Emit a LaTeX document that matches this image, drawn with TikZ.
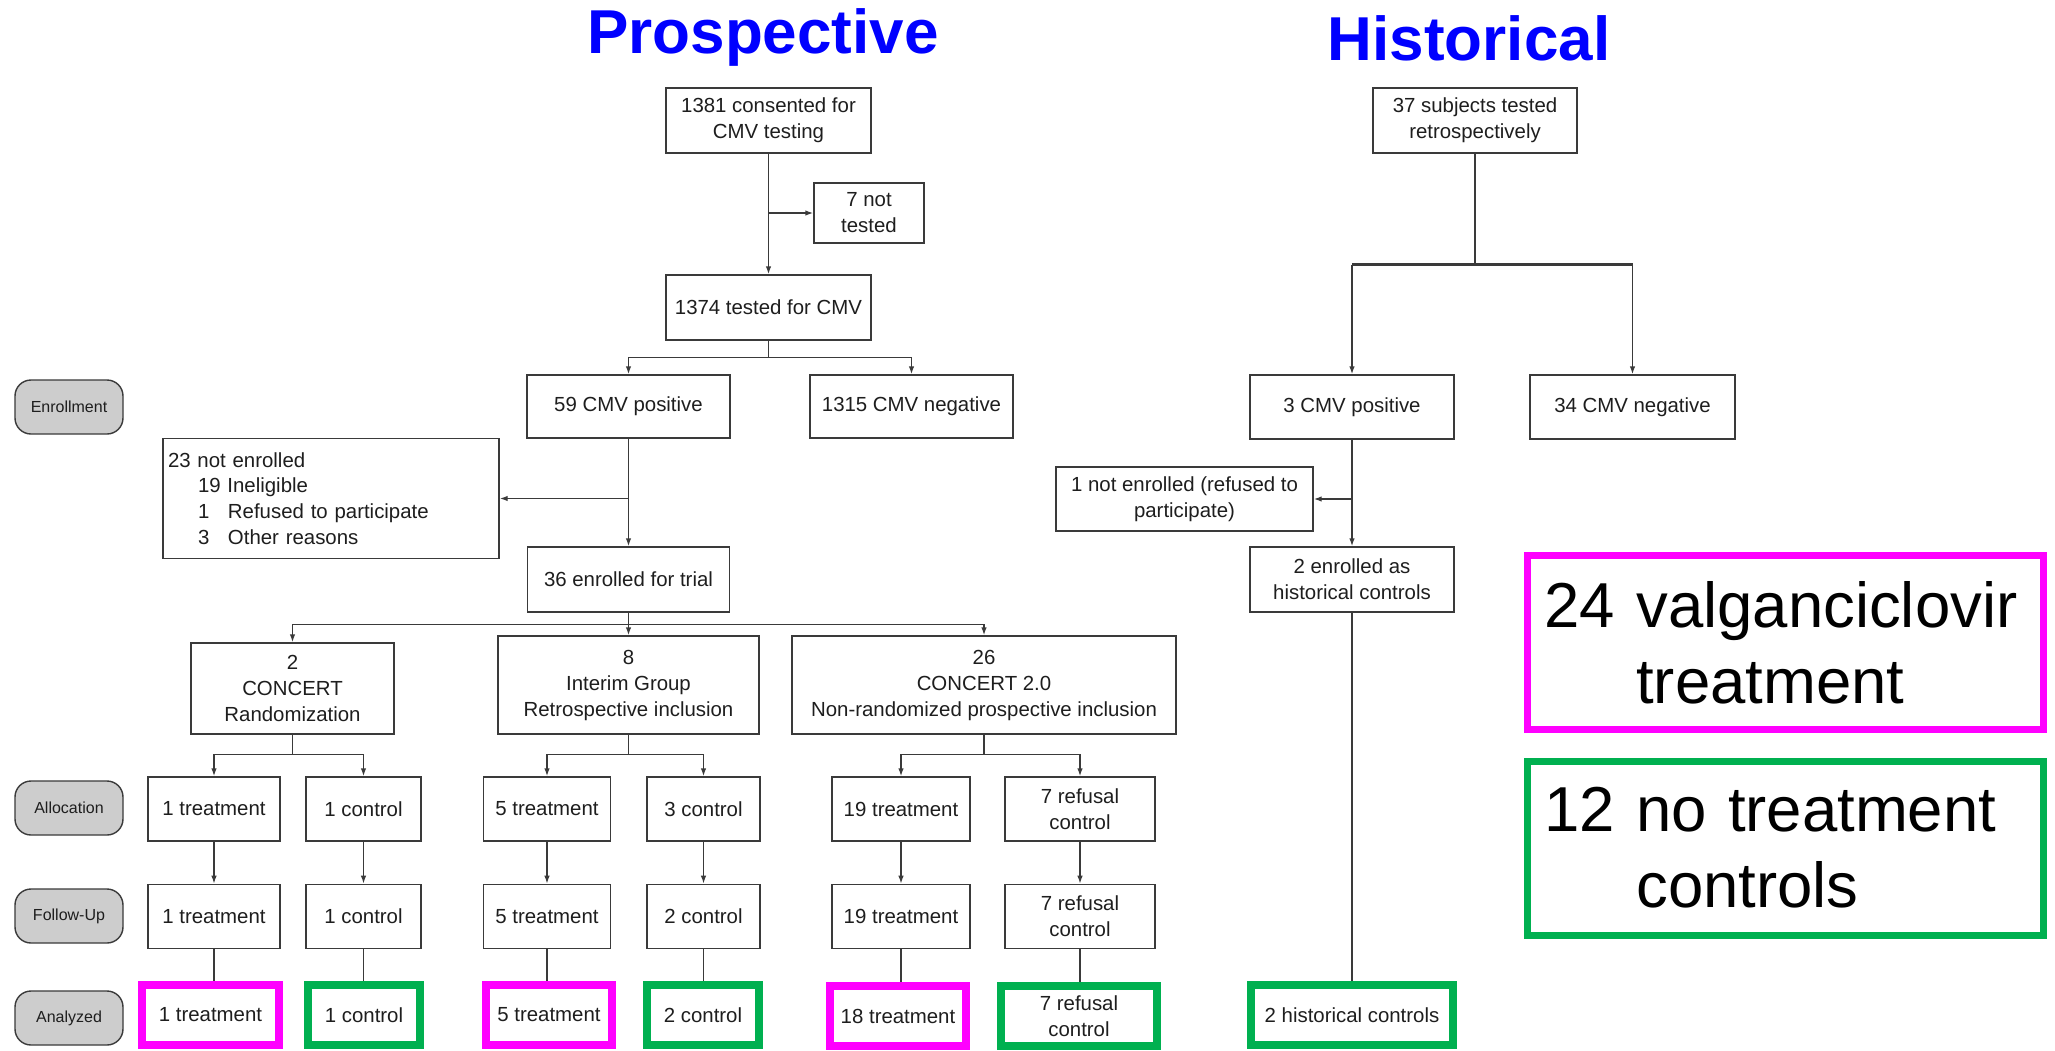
\documentclass[tikz,border=0pt]{standalone}
\usepackage{fontspec}
\setmainfont{Liberation Sans}
\usepackage{xcolor}
\usepackage{tikz}
\usetikzlibrary{arrows.meta, positioning}
\definecolor{TitleBlue}{HTML}{0000FF}
\definecolor{TreatMagenta}{HTML}{FF00FF}
\definecolor{CtrlGreen}{HTML}{00B050}
\definecolor{BoxLine}{HTML}{3A3A3A}
\definecolor{BoxText}{HTML}{1E1E1E}
\definecolor{PhaseGray}{HTML}{CDCDCD}

\begin{document}
\begin{tikzpicture}[
  x=1pt, y=-1pt,
  box/.style={rectangle, draw=BoxLine, line width=1.4pt, fill=white,
    align=center, text=BoxText, font=\fontsize{20.4}{26}\selectfont,
    inner sep=2pt, minimum height=65pt},
  phase/.style={rectangle, rounded corners=16pt, draw=BoxLine, fill=PhaseGray,
    line width=1.4pt, minimum width=108pt, minimum height=54pt,
    text=BoxText, font=\fontsize{16}{20}\selectfont},
  treat/.style={box, draw=TreatMagenta, line width=8pt, minimum height=60pt},
  ctrl/.style={box, draw=CtrlGreen, line width=8pt, minimum height=60pt},
  headline/.style={font=\fontsize{62}{70}\selectfont\bfseries, text=TitleBlue},
  tally/.style={rectangle, line width=7pt, minimum width=516pt, minimum height=174pt,
    align=left, text width=482pt, inner xsep=17pt,
    font=\fontsize{63.5}{76}\selectfont},
  link/.style={BoxLine, line width=1.4pt},
  arr/.style={link, -{Latex[length=8pt,width=5.5pt]}}
]
\path[use as bounding box, fill=white] (0,0) rectangle (2055,1050);

\node[headline, anchor=base] (tpro) at (763,53) {Prospective};
\node[headline, anchor=base] (this) at (1469,60) {Historical};

\node[phase] (ph1) at (69,407) {Enrollment};
\node[phase] (ph2) at (69,808) {Allocation};
\node[phase] (ph3) at (69,916) {Follow-Up};
\node[phase] (ph4) at (69,1018) {Analyzed};

\node[box, minimum width=205pt] (c1381) at (768.5,120.5) {1381 consented for\\CMV testing};
\node[box, minimum width=110pt, minimum height=60pt] (n7) at (869,213) {7 not\\tested};
\node[box, minimum width=205pt] (t1374) at (768.5,307.5) {1374 tested for CMV};
\node[box, minimum width=203pt, minimum height=63pt] (pos59) at (628.5,406.5) {59 CMV positive};
\node[box, minimum width=203pt, minimum height=63pt] (neg1315) at (911.5,406.5) {1315 CMV negative};
\node[box, align=left, text width=326pt, inner xsep=5pt, minimum height=120pt,
  font=\fontsize{20.4}{25.7}\selectfont] (ne23) at (331,498.5) {23 not enrolled\\
  \hspace*{30pt}19 Ineligible\\
  \hspace*{30pt}\makebox[30pt][l]{1}Refused to participate\\
  \hspace*{30pt}\makebox[30pt][l]{3}Other reasons};
\node[box, minimum width=202pt] (enr36) at (628.5,579.5) {36 enrolled for trial};

\node[box, minimum width=203pt, minimum height=91pt] (grpA) at (292.5,688.5) {2\\CONCERT\\Randomization};
\node[box, minimum width=261pt, minimum height=98pt] (grpB) at (628.5,685) {8\\Interim Group\\Retrospective inclusion};
\node[box, minimum width=384pt, minimum height=98pt] (grpC) at (984,685) {26\\CONCERT 2.0\\Non-randomized prospective inclusion};

\node[box, minimum width=132pt, minimum height=64pt] (a1) at (214,809) {1 treatment};
\node[box, minimum width=115pt, minimum height=64pt] (a2) at (363.5,809) {1 control};
\node[box, minimum width=127pt, minimum height=64pt] (a3) at (547,809) {5 treatment};
\node[box, minimum width=113pt, minimum height=64pt] (a4) at (703.5,809) {3 control};
\node[box, minimum width=138pt, minimum height=64pt] (a5) at (901,809) {19 treatment};
\node[box, minimum width=150pt, minimum height=64pt] (a6) at (1080,809) {7 refusal\\control};

\node[box, minimum width=132pt, minimum height=64pt, below=42pt of a1] (f1) {1 treatment};
\node[box, minimum width=115pt, minimum height=64pt, below=42pt of a2] (f2) {1 control};
\node[box, minimum width=127pt, minimum height=64pt, below=42pt of a3] (f3) {5 treatment};
\node[box, minimum width=113pt, minimum height=64pt, below=42pt of a4] (f4) {2 control};
\node[box, minimum width=138pt, minimum height=64pt, below=42pt of a5] (f5) {19 treatment};
\node[box, minimum width=150pt, minimum height=64pt, below=42pt of a6] (f6) {7 refusal\\control};

\node[treat, minimum width=137pt] (z1) at (210.5,1015) {1 treatment};
\node[ctrl, minimum width=112pt] (z2) at (364,1015) {1 control};
\node[treat, minimum width=126pt] (z3) at (549,1015) {5 treatment};
\node[ctrl, minimum width=112pt] (z4) at (703,1015) {2 control};
\node[treat, minimum width=136pt] (z5) at (898,1016) {18 treatment};
\node[ctrl, minimum width=156pt] (z6) at (1079,1016) {7 refusal\\control};

\node[box, minimum width=204pt] (s37) at (1475,120.5) {37 subjects tested\\retrospectively};
\node[box, minimum width=204pt, minimum height=64pt] (pos3) at (1352,407) {3 CMV positive};
\node[box, minimum width=205pt, minimum height=64pt] (neg34) at (1632.5,407) {34 CMV negative};
\node[box, minimum width=257pt, minimum height=64pt] (ne1) at (1184.5,499) {1 not enrolled (refused to\\participate)};
\node[box, minimum width=204pt] (enr2) at (1352,579.5) {2 enrolled as\\historical controls};
\node[ctrl, minimum width=202pt] (zh) at (1352,1015) {2 historical controls};

\node[tally, draw=TreatMagenta] (sumT) at (1785.5,642.5) {24 valganciclovir\\\phantom{24} treatment};
\node[tally, draw=CtrlGreen] (sumC) at (1785.5,848) {12 no treatment\\\phantom{12} controls};

\coordinate[below=17pt of t1374] (j1);
\coordinate[below=12pt of enr36] (j2);
\coordinate[below=20pt of grpA] (jA);
\coordinate[below=20pt of grpB] (jB);
\coordinate[below=20pt of grpC] (jC);
\coordinate[below=111pt of s37] (jH);

\draw[arr] (c1381) -- (t1374);
\draw[arr] (c1381.south |- n7.west) -- (n7.west);
\draw[link] (t1374) -- (j1);
\draw[arr] (j1) -| (pos59.north);
\draw[arr] (j1) -| (neg1315.north);
\draw[arr] (pos59) -- (enr36);
\draw[arr] (pos59.south |- ne23.east) -- (ne23.east);
\draw[link] (enr36) -- (j2);
\draw[arr] (j2) -| (grpA.north);
\draw[arr] (j2) -| (grpC.north);
\draw[arr] (j2) -- (grpB.north);

\draw[link] (grpA) -- (jA);
\draw[arr] (jA) -| (a1.north);
\draw[arr] (jA) -| (a2.north);
\draw[link] (grpB) -- (jB);
\draw[arr] (jB) -| (a3.north);
\draw[arr] (jB) -| (a4.north);
\draw[link] (grpC) -- (jC);
\draw[arr] (jC) -| (a5.north);
\draw[arr] (jC) -| (a6.north);

\foreach \i in {1,...,6}{
  \draw[arr] (a\i) -- (f\i);
  \draw[link] (f\i.south) -- (f\i.south |- z\i.north);
}

\draw[link, line width=2.6pt] (s37) -- (jH);
\draw[link, line width=2.6pt] (jH -| pos3.north) -- (jH -| neg34.north);
\draw[arr] (jH -| pos3.north) -- (pos3.north);
\draw[arr] (jH -| neg34.north) -- (neg34.north);
\draw[arr] (pos3) -- (enr2);
\draw[arr] (pos3.south |- ne1.east) -- (ne1.east);
\draw[link] (enr2) -- (zh.north);

\end{tikzpicture}
\end{document}
